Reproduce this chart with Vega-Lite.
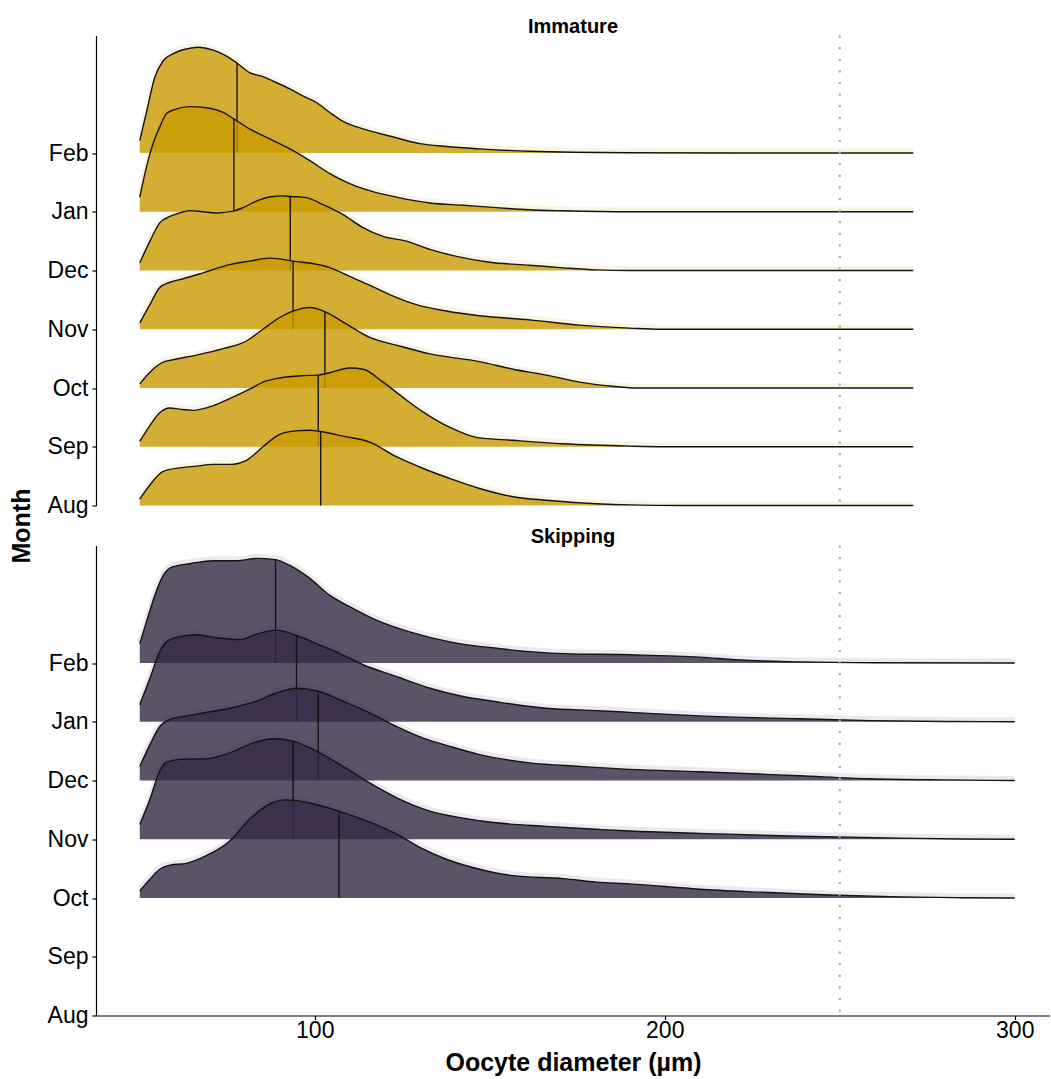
{
  "$schema": "https://vega.github.io/schema/vega-lite/v6.json",
  "background": "white",
  "padding": {"left": 9, "top": 16.5, "right": 0, "bottom": 0},
  "bounds": "flush",
  "config": {
    "font": "Liberation Sans",
    "view": {"stroke": null},
    "axis": {
      "grid": false,
      "domainColor": "black",
      "domainWidth": 1.2,
      "tickColor": "black",
      "tickWidth": 1.2,
      "tickSize": 4,
      "labelColor": "black",
      "labelFontSize": 23,
      "labelPadding": 4,
      "titleColor": "black",
      "titleFontSize": 25,
      "titleFontWeight": "bold"
    },
    "title": {"fontSize": 20, "fontWeight": "bold", "color": "black", "anchor": "middle", "offset": -3}
  },
  "spacing": 40,
  "datasets": {
    "ridges": [
      {"stage":"Immature","month":"Feb","part":"ridge","diameter":50,"density":0.21},
      {"stage":"Immature","month":"Feb","part":"ridge","diameter":51.9,"density":0.69},
      {"stage":"Immature","month":"Feb","part":"ridge","diameter":54.3,"density":1.29},
      {"stage":"Immature","month":"Feb","part":"ridge","diameter":56.7,"density":1.57},
      {"stage":"Immature","month":"Feb","part":"ridge","diameter":59.5,"density":1.69},
      {"stage":"Immature","month":"Feb","part":"ridge","diameter":63.3,"density":1.77},
      {"stage":"Immature","month":"Feb","part":"ridge","diameter":66.7,"density":1.8},
      {"stage":"Immature","month":"Feb","part":"ridge","diameter":71,"density":1.75},
      {"stage":"Immature","month":"Feb","part":"ridge","diameter":74.8,"density":1.65},
      {"stage":"Immature","month":"Feb","part":"ridge","diameter":77.6,"density":1.54},
      {"stage":"Immature","month":"Feb","part":"ridge","diameter":81.4,"density":1.37},
      {"stage":"Immature","month":"Feb","part":"ridge","diameter":85.2,"density":1.3},
      {"stage":"Immature","month":"Feb","part":"ridge","diameter":89,"density":1.2},
      {"stage":"Immature","month":"Feb","part":"ridge","diameter":92.9,"density":1.09},
      {"stage":"Immature","month":"Feb","part":"ridge","diameter":96.7,"density":0.97},
      {"stage":"Immature","month":"Feb","part":"ridge","diameter":100.5,"density":0.86},
      {"stage":"Immature","month":"Feb","part":"ridge","diameter":104.3,"density":0.69},
      {"stage":"Immature","month":"Feb","part":"ridge","diameter":108.1,"density":0.54},
      {"stage":"Immature","month":"Feb","part":"ridge","diameter":113.8,"density":0.41},
      {"stage":"Immature","month":"Feb","part":"ridge","diameter":121.4,"density":0.29},
      {"stage":"Immature","month":"Feb","part":"ridge","diameter":130,"density":0.16},
      {"stage":"Immature","month":"Feb","part":"ridge","diameter":137.6,"density":0.11},
      {"stage":"Immature","month":"Feb","part":"ridge","diameter":147.1,"density":0.07},
      {"stage":"Immature","month":"Feb","part":"ridge","diameter":161.4,"density":0.03},
      {"stage":"Immature","month":"Feb","part":"ridge","diameter":190,"density":0.005},
      {"stage":"Immature","month":"Feb","part":"ridge","diameter":220,"density":0},
      {"stage":"Immature","month":"Feb","part":"ridge","diameter":271,"density":0},
      {"stage":"Immature","month":"Feb","part":"median","diameter":77.8,"density":1.53},

      {"stage":"Immature","month":"Jan","part":"ridge","diameter":50,"density":0.25},
      {"stage":"Immature","month":"Jan","part":"ridge","diameter":51.9,"density":0.76},
      {"stage":"Immature","month":"Jan","part":"ridge","diameter":53.8,"density":1.16},
      {"stage":"Immature","month":"Jan","part":"ridge","diameter":55.7,"density":1.44},
      {"stage":"Immature","month":"Jan","part":"ridge","diameter":57.6,"density":1.67},
      {"stage":"Immature","month":"Jan","part":"ridge","diameter":59.5,"density":1.73},
      {"stage":"Immature","month":"Jan","part":"ridge","diameter":64.3,"density":1.79},
      {"stage":"Immature","month":"Jan","part":"ridge","diameter":69,"density":1.77},
      {"stage":"Immature","month":"Jan","part":"ridge","diameter":73.8,"density":1.69},
      {"stage":"Immature","month":"Jan","part":"ridge","diameter":76.9,"density":1.58},
      {"stage":"Immature","month":"Jan","part":"ridge","diameter":81.4,"density":1.41},
      {"stage":"Immature","month":"Jan","part":"ridge","diameter":87.1,"density":1.24},
      {"stage":"Immature","month":"Jan","part":"ridge","diameter":92.9,"density":1.07},
      {"stage":"Immature","month":"Jan","part":"ridge","diameter":98.6,"density":0.87},
      {"stage":"Immature","month":"Jan","part":"ridge","diameter":104.3,"density":0.65},
      {"stage":"Immature","month":"Jan","part":"ridge","diameter":110,"density":0.48},
      {"stage":"Immature","month":"Jan","part":"ridge","diameter":115.7,"density":0.36},
      {"stage":"Immature","month":"Jan","part":"ridge","diameter":123.3,"density":0.25},
      {"stage":"Immature","month":"Jan","part":"ridge","diameter":132.9,"density":0.15},
      {"stage":"Immature","month":"Jan","part":"ridge","diameter":142.4,"density":0.11},
      {"stage":"Immature","month":"Jan","part":"ridge","diameter":151.9,"density":0.07},
      {"stage":"Immature","month":"Jan","part":"ridge","diameter":161.4,"density":0.034},
      {"stage":"Immature","month":"Jan","part":"ridge","diameter":171,"density":0.017},
      {"stage":"Immature","month":"Jan","part":"ridge","diameter":190,"density":0},
      {"stage":"Immature","month":"Jan","part":"ridge","diameter":271,"density":0},
      {"stage":"Immature","month":"Jan","part":"median","diameter":76.9,"density":1.58},

      {"stage":"Immature","month":"Dec","part":"ridge","diameter":50,"density":0.13},
      {"stage":"Immature","month":"Dec","part":"ridge","diameter":52.9,"density":0.5},
      {"stage":"Immature","month":"Dec","part":"ridge","diameter":55.7,"density":0.81},
      {"stage":"Immature","month":"Dec","part":"ridge","diameter":58.6,"density":0.92},
      {"stage":"Immature","month":"Dec","part":"ridge","diameter":61.4,"density":0.98},
      {"stage":"Immature","month":"Dec","part":"ridge","diameter":64.3,"density":1.02},
      {"stage":"Immature","month":"Dec","part":"ridge","diameter":68.1,"density":1.0},
      {"stage":"Immature","month":"Dec","part":"ridge","diameter":71.9,"density":0.98},
      {"stage":"Immature","month":"Dec","part":"ridge","diameter":76.7,"density":1.01},
      {"stage":"Immature","month":"Dec","part":"ridge","diameter":79.5,"density":1.07},
      {"stage":"Immature","month":"Dec","part":"ridge","diameter":83.3,"density":1.18},
      {"stage":"Immature","month":"Dec","part":"ridge","diameter":87.1,"density":1.25},
      {"stage":"Immature","month":"Dec","part":"ridge","diameter":91,"density":1.27},
      {"stage":"Immature","month":"Dec","part":"ridge","diameter":93,"density":1.26},
      {"stage":"Immature","month":"Dec","part":"ridge","diameter":97.6,"density":1.24},
      {"stage":"Immature","month":"Dec","part":"ridge","diameter":102.4,"density":1.12},
      {"stage":"Immature","month":"Dec","part":"ridge","diameter":108.1,"density":0.95},
      {"stage":"Immature","month":"Dec","part":"ridge","diameter":113.8,"density":0.73},
      {"stage":"Immature","month":"Dec","part":"ridge","diameter":119.5,"density":0.58},
      {"stage":"Immature","month":"Dec","part":"ridge","diameter":126.2,"density":0.5},
      {"stage":"Immature","month":"Dec","part":"ridge","diameter":132.9,"density":0.36},
      {"stage":"Immature","month":"Dec","part":"ridge","diameter":140.5,"density":0.24},
      {"stage":"Immature","month":"Dec","part":"ridge","diameter":150,"density":0.14},
      {"stage":"Immature","month":"Dec","part":"ridge","diameter":161.4,"density":0.09},
      {"stage":"Immature","month":"Dec","part":"ridge","diameter":171,"density":0.045},
      {"stage":"Immature","month":"Dec","part":"ridge","diameter":180.5,"density":0.01},
      {"stage":"Immature","month":"Dec","part":"ridge","diameter":190,"density":0},
      {"stage":"Immature","month":"Dec","part":"ridge","diameter":271,"density":0},
      {"stage":"Immature","month":"Dec","part":"median","diameter":93,"density":1.26},

      {"stage":"Immature","month":"Nov","part":"ridge","diameter":50,"density":0.11},
      {"stage":"Immature","month":"Nov","part":"ridge","diameter":52.9,"density":0.42},
      {"stage":"Immature","month":"Nov","part":"ridge","diameter":55.7,"density":0.71},
      {"stage":"Immature","month":"Nov","part":"ridge","diameter":58.6,"density":0.8},
      {"stage":"Immature","month":"Nov","part":"ridge","diameter":62.4,"density":0.86},
      {"stage":"Immature","month":"Nov","part":"ridge","diameter":68.1,"density":0.96},
      {"stage":"Immature","month":"Nov","part":"ridge","diameter":75.7,"density":1.1},
      {"stage":"Immature","month":"Nov","part":"ridge","diameter":81.4,"density":1.16},
      {"stage":"Immature","month":"Nov","part":"ridge","diameter":87.1,"density":1.21},
      {"stage":"Immature","month":"Nov","part":"ridge","diameter":93.8,"density":1.16},
      {"stage":"Immature","month":"Nov","part":"ridge","diameter":104.3,"density":1.05},
      {"stage":"Immature","month":"Nov","part":"ridge","diameter":110,"density":0.9},
      {"stage":"Immature","month":"Nov","part":"ridge","diameter":115.7,"density":0.75},
      {"stage":"Immature","month":"Nov","part":"ridge","diameter":121.4,"density":0.59},
      {"stage":"Immature","month":"Nov","part":"ridge","diameter":129,"density":0.42},
      {"stage":"Immature","month":"Nov","part":"ridge","diameter":137.6,"density":0.31},
      {"stage":"Immature","month":"Nov","part":"ridge","diameter":147.1,"density":0.23},
      {"stage":"Immature","month":"Nov","part":"ridge","diameter":161.4,"density":0.16},
      {"stage":"Immature","month":"Nov","part":"ridge","diameter":175.7,"density":0.07},
      {"stage":"Immature","month":"Nov","part":"ridge","diameter":190,"density":0.02},
      {"stage":"Immature","month":"Nov","part":"ridge","diameter":199,"density":0},
      {"stage":"Immature","month":"Nov","part":"ridge","diameter":271,"density":0},
      {"stage":"Immature","month":"Nov","part":"median","diameter":93.8,"density":1.16},

      {"stage":"Immature","month":"Oct","part":"ridge","diameter":50,"density":0.07},
      {"stage":"Immature","month":"Oct","part":"ridge","diameter":52.9,"density":0.27},
      {"stage":"Immature","month":"Oct","part":"ridge","diameter":56.7,"density":0.44},
      {"stage":"Immature","month":"Oct","part":"ridge","diameter":59.5,"density":0.48},
      {"stage":"Immature","month":"Oct","part":"ridge","diameter":66.2,"density":0.56},
      {"stage":"Immature","month":"Oct","part":"ridge","diameter":73.8,"density":0.67},
      {"stage":"Immature","month":"Oct","part":"ridge","diameter":80.5,"density":0.8},
      {"stage":"Immature","month":"Oct","part":"ridge","diameter":85.2,"density":1.0},
      {"stage":"Immature","month":"Oct","part":"ridge","diameter":90,"density":1.2},
      {"stage":"Immature","month":"Oct","part":"ridge","diameter":94.8,"density":1.33},
      {"stage":"Immature","month":"Oct","part":"ridge","diameter":98.6,"density":1.37},
      {"stage":"Immature","month":"Oct","part":"ridge","diameter":102.9,"density":1.3},
      {"stage":"Immature","month":"Oct","part":"ridge","diameter":109,"density":1.09},
      {"stage":"Immature","month":"Oct","part":"ridge","diameter":115.7,"density":0.86},
      {"stage":"Immature","month":"Oct","part":"ridge","diameter":123.3,"density":0.73},
      {"stage":"Immature","month":"Oct","part":"ridge","diameter":132.9,"density":0.58},
      {"stage":"Immature","month":"Oct","part":"ridge","diameter":147.1,"density":0.45},
      {"stage":"Immature","month":"Oct","part":"ridge","diameter":156.7,"density":0.32},
      {"stage":"Immature","month":"Oct","part":"ridge","diameter":166.2,"density":0.22},
      {"stage":"Immature","month":"Oct","part":"ridge","diameter":175.7,"density":0.1},
      {"stage":"Immature","month":"Oct","part":"ridge","diameter":185.2,"density":0.03},
      {"stage":"Immature","month":"Oct","part":"ridge","diameter":192,"density":0},
      {"stage":"Immature","month":"Oct","part":"ridge","diameter":271,"density":0},
      {"stage":"Immature","month":"Oct","part":"median","diameter":102.9,"density":1.3},

      {"stage":"Immature","month":"Sep","part":"ridge","diameter":50,"density":0.09},
      {"stage":"Immature","month":"Sep","part":"ridge","diameter":52.9,"density":0.36},
      {"stage":"Immature","month":"Sep","part":"ridge","diameter":55.7,"density":0.58},
      {"stage":"Immature","month":"Sep","part":"ridge","diameter":58.6,"density":0.66},
      {"stage":"Immature","month":"Sep","part":"ridge","diameter":61.4,"density":0.64},
      {"stage":"Immature","month":"Sep","part":"ridge","diameter":65.2,"density":0.62},
      {"stage":"Immature","month":"Sep","part":"ridge","diameter":71,"density":0.7},
      {"stage":"Immature","month":"Sep","part":"ridge","diameter":75.7,"density":0.82},
      {"stage":"Immature","month":"Sep","part":"ridge","diameter":81.4,"density":0.98},
      {"stage":"Immature","month":"Sep","part":"ridge","diameter":85.2,"density":1.1},
      {"stage":"Immature","month":"Sep","part":"ridge","diameter":90,"density":1.17},
      {"stage":"Immature","month":"Sep","part":"ridge","diameter":96.7,"density":1.21},
      {"stage":"Immature","month":"Sep","part":"ridge","diameter":101,"density":1.22},
      {"stage":"Immature","month":"Sep","part":"ridge","diameter":104.3,"density":1.26},
      {"stage":"Immature","month":"Sep","part":"ridge","diameter":110,"density":1.34},
      {"stage":"Immature","month":"Sep","part":"ridge","diameter":113.8,"density":1.32},
      {"stage":"Immature","month":"Sep","part":"ridge","diameter":119.5,"density":1.1},
      {"stage":"Immature","month":"Sep","part":"ridge","diameter":125.2,"density":0.84},
      {"stage":"Immature","month":"Sep","part":"ridge","diameter":131,"density":0.59},
      {"stage":"Immature","month":"Sep","part":"ridge","diameter":138.6,"density":0.33},
      {"stage":"Immature","month":"Sep","part":"ridge","diameter":146.2,"density":0.16},
      {"stage":"Immature","month":"Sep","part":"ridge","diameter":156.7,"density":0.11},
      {"stage":"Immature","month":"Sep","part":"ridge","diameter":171,"density":0.05},
      {"stage":"Immature","month":"Sep","part":"ridge","diameter":190,"density":0.01},
      {"stage":"Immature","month":"Sep","part":"ridge","diameter":200,"density":0},
      {"stage":"Immature","month":"Sep","part":"ridge","diameter":271,"density":0},
      {"stage":"Immature","month":"Sep","part":"median","diameter":101,"density":1.22},

      {"stage":"Immature","month":"Aug","part":"ridge","diameter":50,"density":0.11},
      {"stage":"Immature","month":"Aug","part":"ridge","diameter":52.9,"density":0.35},
      {"stage":"Immature","month":"Aug","part":"ridge","diameter":56.7,"density":0.58},
      {"stage":"Immature","month":"Aug","part":"ridge","diameter":61.4,"density":0.64},
      {"stage":"Immature","month":"Aug","part":"ridge","diameter":66.2,"density":0.67},
      {"stage":"Immature","month":"Aug","part":"ridge","diameter":71,"density":0.7},
      {"stage":"Immature","month":"Aug","part":"ridge","diameter":75.7,"density":0.7},
      {"stage":"Immature","month":"Aug","part":"ridge","diameter":80.5,"density":0.77},
      {"stage":"Immature","month":"Aug","part":"ridge","diameter":85.2,"density":1.0},
      {"stage":"Immature","month":"Aug","part":"ridge","diameter":90,"density":1.21},
      {"stage":"Immature","month":"Aug","part":"ridge","diameter":94.8,"density":1.27},
      {"stage":"Immature","month":"Aug","part":"ridge","diameter":98.6,"density":1.28},
      {"stage":"Immature","month":"Aug","part":"ridge","diameter":101.7,"density":1.26},
      {"stage":"Immature","month":"Aug","part":"ridge","diameter":108.1,"density":1.18},
      {"stage":"Immature","month":"Aug","part":"ridge","diameter":115.7,"density":1.08},
      {"stage":"Immature","month":"Aug","part":"ridge","diameter":123.3,"density":0.83},
      {"stage":"Immature","month":"Aug","part":"ridge","diameter":131,"density":0.63},
      {"stage":"Immature","month":"Aug","part":"ridge","diameter":138.6,"density":0.46},
      {"stage":"Immature","month":"Aug","part":"ridge","diameter":147.1,"density":0.29},
      {"stage":"Immature","month":"Aug","part":"ridge","diameter":156.7,"density":0.15},
      {"stage":"Immature","month":"Aug","part":"ridge","diameter":166.2,"density":0.09},
      {"stage":"Immature","month":"Aug","part":"ridge","diameter":180.5,"density":0.03},
      {"stage":"Immature","month":"Aug","part":"ridge","diameter":190,"density":0.01},
      {"stage":"Immature","month":"Aug","part":"ridge","diameter":205,"density":0},
      {"stage":"Immature","month":"Aug","part":"ridge","diameter":271,"density":0},
      {"stage":"Immature","month":"Aug","part":"median","diameter":101.7,"density":1.26},

      {"stage":"Immature","part":"reference","diameter":250},

      {"stage":"Skipping","month":"Feb","part":"ridge","diameter":50,"density":0.33},
      {"stage":"Skipping","month":"Feb","part":"ridge","diameter":51.9,"density":0.7},
      {"stage":"Skipping","month":"Feb","part":"ridge","diameter":54.3,"density":1.15},
      {"stage":"Skipping","month":"Feb","part":"ridge","diameter":56.7,"density":1.49},
      {"stage":"Skipping","month":"Feb","part":"ridge","diameter":59.5,"density":1.64},
      {"stage":"Skipping","month":"Feb","part":"ridge","diameter":64.3,"density":1.69},
      {"stage":"Skipping","month":"Feb","part":"ridge","diameter":71,"density":1.74},
      {"stage":"Skipping","month":"Feb","part":"ridge","diameter":77.6,"density":1.74},
      {"stage":"Skipping","month":"Feb","part":"ridge","diameter":83.3,"density":1.78},
      {"stage":"Skipping","month":"Feb","part":"ridge","diameter":88.8,"density":1.76},
      {"stage":"Skipping","month":"Feb","part":"ridge","diameter":92.9,"density":1.66},
      {"stage":"Skipping","month":"Feb","part":"ridge","diameter":98.6,"density":1.44},
      {"stage":"Skipping","month":"Feb","part":"ridge","diameter":104.3,"density":1.15},
      {"stage":"Skipping","month":"Feb","part":"ridge","diameter":110,"density":0.96},
      {"stage":"Skipping","month":"Feb","part":"ridge","diameter":117.6,"density":0.73},
      {"stage":"Skipping","month":"Feb","part":"ridge","diameter":127.1,"density":0.53},
      {"stage":"Skipping","month":"Feb","part":"ridge","diameter":138.6,"density":0.36},
      {"stage":"Skipping","month":"Feb","part":"ridge","diameter":151.9,"density":0.25},
      {"stage":"Skipping","month":"Feb","part":"ridge","diameter":171,"density":0.16},
      {"stage":"Skipping","month":"Feb","part":"ridge","diameter":190,"density":0.14},
      {"stage":"Skipping","month":"Feb","part":"ridge","diameter":210,"density":0.1},
      {"stage":"Skipping","month":"Feb","part":"ridge","diameter":221.4,"density":0.05},
      {"stage":"Skipping","month":"Feb","part":"ridge","diameter":238.6,"density":0.02},
      {"stage":"Skipping","month":"Feb","part":"ridge","diameter":260,"density":0.005},
      {"stage":"Skipping","month":"Feb","part":"ridge","diameter":300,"density":0},
      {"stage":"Skipping","month":"Feb","part":"median","diameter":88.8,"density":1.76},

      {"stage":"Skipping","month":"Jan","part":"ridge","diameter":50,"density":0.29},
      {"stage":"Skipping","month":"Jan","part":"ridge","diameter":52.9,"density":0.74},
      {"stage":"Skipping","month":"Jan","part":"ridge","diameter":55.7,"density":1.19},
      {"stage":"Skipping","month":"Jan","part":"ridge","diameter":57.6,"density":1.36},
      {"stage":"Skipping","month":"Jan","part":"ridge","diameter":61.4,"density":1.45},
      {"stage":"Skipping","month":"Jan","part":"ridge","diameter":66.2,"density":1.48},
      {"stage":"Skipping","month":"Jan","part":"ridge","diameter":71.9,"density":1.43},
      {"stage":"Skipping","month":"Jan","part":"ridge","diameter":78.6,"density":1.4},
      {"stage":"Skipping","month":"Jan","part":"ridge","diameter":83.3,"density":1.49},
      {"stage":"Skipping","month":"Jan","part":"ridge","diameter":88.8,"density":1.56},
      {"stage":"Skipping","month":"Jan","part":"ridge","diameter":94.8,"density":1.47},
      {"stage":"Skipping","month":"Jan","part":"ridge","diameter":100.5,"density":1.33},
      {"stage":"Skipping","month":"Jan","part":"ridge","diameter":106.2,"density":1.19},
      {"stage":"Skipping","month":"Jan","part":"ridge","diameter":113.8,"density":0.97},
      {"stage":"Skipping","month":"Jan","part":"ridge","diameter":123.3,"density":0.77},
      {"stage":"Skipping","month":"Jan","part":"ridge","diameter":132.9,"density":0.57},
      {"stage":"Skipping","month":"Jan","part":"ridge","diameter":142.4,"density":0.43},
      {"stage":"Skipping","month":"Jan","part":"ridge","diameter":151.9,"density":0.34},
      {"stage":"Skipping","month":"Jan","part":"ridge","diameter":166.2,"density":0.23},
      {"stage":"Skipping","month":"Jan","part":"ridge","diameter":180.5,"density":0.19},
      {"stage":"Skipping","month":"Jan","part":"ridge","diameter":190,"density":0.16},
      {"stage":"Skipping","month":"Jan","part":"ridge","diameter":210,"density":0.1},
      {"stage":"Skipping","month":"Jan","part":"ridge","diameter":238.6,"density":0.05},
      {"stage":"Skipping","month":"Jan","part":"ridge","diameter":258.6,"density":0.02},
      {"stage":"Skipping","month":"Jan","part":"ridge","diameter":280,"density":0.005},
      {"stage":"Skipping","month":"Jan","part":"ridge","diameter":300,"density":0},
      {"stage":"Skipping","month":"Jan","part":"median","diameter":94.8,"density":1.47},

      {"stage":"Skipping","month":"Dec","part":"ridge","diameter":50,"density":0.24},
      {"stage":"Skipping","month":"Dec","part":"ridge","diameter":52.9,"density":0.61},
      {"stage":"Skipping","month":"Dec","part":"ridge","diameter":55.7,"density":0.92},
      {"stage":"Skipping","month":"Dec","part":"ridge","diameter":58.6,"density":1.04},
      {"stage":"Skipping","month":"Dec","part":"ridge","diameter":62.4,"density":1.09},
      {"stage":"Skipping","month":"Dec","part":"ridge","diameter":68.1,"density":1.15},
      {"stage":"Skipping","month":"Dec","part":"ridge","diameter":75.7,"density":1.23},
      {"stage":"Skipping","month":"Dec","part":"ridge","diameter":83.3,"density":1.35},
      {"stage":"Skipping","month":"Dec","part":"ridge","diameter":89,"density":1.49},
      {"stage":"Skipping","month":"Dec","part":"ridge","diameter":94.8,"density":1.57},
      {"stage":"Skipping","month":"Dec","part":"ridge","diameter":101,"density":1.52},
      {"stage":"Skipping","month":"Dec","part":"ridge","diameter":108.1,"density":1.35},
      {"stage":"Skipping","month":"Dec","part":"ridge","diameter":115.7,"density":1.15},
      {"stage":"Skipping","month":"Dec","part":"ridge","diameter":123.3,"density":0.92},
      {"stage":"Skipping","month":"Dec","part":"ridge","diameter":131,"density":0.72},
      {"stage":"Skipping","month":"Dec","part":"ridge","diameter":138.6,"density":0.58},
      {"stage":"Skipping","month":"Dec","part":"ridge","diameter":147.1,"density":0.44},
      {"stage":"Skipping","month":"Dec","part":"ridge","diameter":161.4,"density":0.3},
      {"stage":"Skipping","month":"Dec","part":"ridge","diameter":175.7,"density":0.24},
      {"stage":"Skipping","month":"Dec","part":"ridge","diameter":190,"density":0.19},
      {"stage":"Skipping","month":"Dec","part":"ridge","diameter":210,"density":0.15},
      {"stage":"Skipping","month":"Dec","part":"ridge","diameter":238.6,"density":0.08},
      {"stage":"Skipping","month":"Dec","part":"ridge","diameter":258.6,"density":0.03},
      {"stage":"Skipping","month":"Dec","part":"ridge","diameter":280,"density":0.01},
      {"stage":"Skipping","month":"Dec","part":"ridge","diameter":300,"density":0},
      {"stage":"Skipping","month":"Dec","part":"median","diameter":101,"density":1.52},

      {"stage":"Skipping","month":"Nov","part":"ridge","diameter":50,"density":0.25},
      {"stage":"Skipping","month":"Nov","part":"ridge","diameter":52.9,"density":0.68},
      {"stage":"Skipping","month":"Nov","part":"ridge","diameter":55.7,"density":1.16},
      {"stage":"Skipping","month":"Nov","part":"ridge","diameter":57.6,"density":1.31},
      {"stage":"Skipping","month":"Nov","part":"ridge","diameter":61.4,"density":1.36},
      {"stage":"Skipping","month":"Nov","part":"ridge","diameter":69,"density":1.37},
      {"stage":"Skipping","month":"Nov","part":"ridge","diameter":75.7,"density":1.47},
      {"stage":"Skipping","month":"Nov","part":"ridge","diameter":82.4,"density":1.64},
      {"stage":"Skipping","month":"Nov","part":"ridge","diameter":88.1,"density":1.71},
      {"stage":"Skipping","month":"Nov","part":"ridge","diameter":93.8,"density":1.67},
      {"stage":"Skipping","month":"Nov","part":"ridge","diameter":100.5,"density":1.5},
      {"stage":"Skipping","month":"Nov","part":"ridge","diameter":108.1,"density":1.24},
      {"stage":"Skipping","month":"Nov","part":"ridge","diameter":115.7,"density":0.96},
      {"stage":"Skipping","month":"Nov","part":"ridge","diameter":123.3,"density":0.71},
      {"stage":"Skipping","month":"Nov","part":"ridge","diameter":132.9,"density":0.48},
      {"stage":"Skipping","month":"Nov","part":"ridge","diameter":142.4,"density":0.36},
      {"stage":"Skipping","month":"Nov","part":"ridge","diameter":151.9,"density":0.28},
      {"stage":"Skipping","month":"Nov","part":"ridge","diameter":166.2,"density":0.22},
      {"stage":"Skipping","month":"Nov","part":"ridge","diameter":180.5,"density":0.17},
      {"stage":"Skipping","month":"Nov","part":"ridge","diameter":190,"density":0.14},
      {"stage":"Skipping","month":"Nov","part":"ridge","diameter":210,"density":0.1},
      {"stage":"Skipping","month":"Nov","part":"ridge","diameter":238.6,"density":0.05},
      {"stage":"Skipping","month":"Nov","part":"ridge","diameter":267,"density":0.02},
      {"stage":"Skipping","month":"Nov","part":"ridge","diameter":285,"density":0.005},
      {"stage":"Skipping","month":"Nov","part":"ridge","diameter":300,"density":0},
      {"stage":"Skipping","month":"Nov","part":"median","diameter":93.8,"density":1.67},

      {"stage":"Skipping","month":"Oct","part":"ridge","diameter":50,"density":0.12},
      {"stage":"Skipping","month":"Oct","part":"ridge","diameter":52.9,"density":0.32},
      {"stage":"Skipping","month":"Oct","part":"ridge","diameter":55.7,"density":0.49},
      {"stage":"Skipping","month":"Oct","part":"ridge","diameter":58.6,"density":0.56},
      {"stage":"Skipping","month":"Oct","part":"ridge","diameter":63.3,"density":0.59},
      {"stage":"Skipping","month":"Oct","part":"ridge","diameter":69,"density":0.72},
      {"stage":"Skipping","month":"Oct","part":"ridge","diameter":75.7,"density":0.97},
      {"stage":"Skipping","month":"Oct","part":"ridge","diameter":81.4,"density":1.34},
      {"stage":"Skipping","month":"Oct","part":"ridge","diameter":87.1,"density":1.6},
      {"stage":"Skipping","month":"Oct","part":"ridge","diameter":91.9,"density":1.67},
      {"stage":"Skipping","month":"Oct","part":"ridge","diameter":97.6,"density":1.63},
      {"stage":"Skipping","month":"Oct","part":"ridge","diameter":106.9,"density":1.48},
      {"stage":"Skipping","month":"Oct","part":"ridge","diameter":115.7,"density":1.29},
      {"stage":"Skipping","month":"Oct","part":"ridge","diameter":123.3,"density":1.09},
      {"stage":"Skipping","month":"Oct","part":"ridge","diameter":130,"density":0.86},
      {"stage":"Skipping","month":"Oct","part":"ridge","diameter":137.6,"density":0.66},
      {"stage":"Skipping","month":"Oct","part":"ridge","diameter":147.1,"density":0.49},
      {"stage":"Skipping","month":"Oct","part":"ridge","diameter":156.7,"density":0.38},
      {"stage":"Skipping","month":"Oct","part":"ridge","diameter":171,"density":0.33},
      {"stage":"Skipping","month":"Oct","part":"ridge","diameter":180.5,"density":0.27},
      {"stage":"Skipping","month":"Oct","part":"ridge","diameter":190,"density":0.24},
      {"stage":"Skipping","month":"Oct","part":"ridge","diameter":210,"density":0.15},
      {"stage":"Skipping","month":"Oct","part":"ridge","diameter":227,"density":0.1},
      {"stage":"Skipping","month":"Oct","part":"ridge","diameter":247,"density":0.05},
      {"stage":"Skipping","month":"Oct","part":"ridge","diameter":267,"density":0.02},
      {"stage":"Skipping","month":"Oct","part":"ridge","diameter":285,"density":0.005},
      {"stage":"Skipping","month":"Oct","part":"ridge","diameter":300,"density":0},
      {"stage":"Skipping","month":"Oct","part":"median","diameter":106.9,"density":1.48},

      {"stage":"Skipping","part":"reference","diameter":250}
    ]
  },
  "vconcat": [
    {
      "title": {"text": "Immature"},
      "width": 954,
      "height": 470,
      "data": {"name": "ridges"},
      "transform": [
        {"filter": "datum.stage === 'Immature'"},
        {"calculate": "indexof(['Aug','Sep','Oct','Nov','Dec','Jan','Feb'], datum.month)", "as": "base"},
        {"calculate": "datum.base + datum.density", "as": "top"}
      ],
      "encoding": {
        "x": {"field": "diameter", "type": "quantitative", "scale": {"domain": [37.5, 310.07], "nice": false, "zero": false}, "axis": null}
      },
      "layer": [
        {
          "encoding": {
            "y": {"field": "top", "type": "quantitative", "scale": {"domain": [0, 8], "nice": false, "zero": false},
                  "axis": {"values": [0, 1, 2, 3, 4, 5, 6], "labelExpr": "['Aug','Sep','Oct','Nov','Dec','Jan','Feb'][datum.value]", "title": "Month", "titlePadding": 13, "titleY": 490}}
          },
          "layer": [
            {"transform": [{"filter": "datum.month === 'Feb' && datum.part === 'ridge'"}], "mark": {"type": "line", "interpolate": "monotone", "strokeWidth": 5, "yOffset": -2, "color": "#C99A00", "opacity": 0.1}},
            {"transform": [{"filter": "datum.month === 'Feb' && datum.part === 'ridge'"}], "mark": {"type": "area", "interpolate": "monotone", "color": "#C99A00", "opacity": 0.8}, "encoding": {"y2": {"field": "base"}}},
            {"transform": [{"filter": "datum.month === 'Feb' && datum.part === 'ridge'"}], "mark": {"type": "line", "interpolate": "monotone", "color": "#141414", "strokeWidth": 1.4}},
            {"transform": [{"filter": "datum.month === 'Feb' && datum.part === 'median'"}], "mark": {"type": "rule", "color": "#141414", "strokeWidth": 1.4}, "encoding": {"y2": {"field": "base"}}},

            {"transform": [{"filter": "datum.month === 'Jan' && datum.part === 'ridge'"}], "mark": {"type": "line", "interpolate": "monotone", "strokeWidth": 5, "yOffset": -2, "color": "#C99A00", "opacity": 0.1}},
            {"transform": [{"filter": "datum.month === 'Jan' && datum.part === 'ridge'"}], "mark": {"type": "area", "interpolate": "monotone", "color": "#C99A00", "opacity": 0.8}, "encoding": {"y2": {"field": "base"}}},
            {"transform": [{"filter": "datum.month === 'Jan' && datum.part === 'ridge'"}], "mark": {"type": "line", "interpolate": "monotone", "color": "#141414", "strokeWidth": 1.4}},
            {"transform": [{"filter": "datum.month === 'Jan' && datum.part === 'median'"}], "mark": {"type": "rule", "color": "#141414", "strokeWidth": 1.4}, "encoding": {"y2": {"field": "base"}}},

            {"transform": [{"filter": "datum.month === 'Dec' && datum.part === 'ridge'"}], "mark": {"type": "line", "interpolate": "monotone", "strokeWidth": 5, "yOffset": -2, "color": "#C99A00", "opacity": 0.1}},
            {"transform": [{"filter": "datum.month === 'Dec' && datum.part === 'ridge'"}], "mark": {"type": "area", "interpolate": "monotone", "color": "#C99A00", "opacity": 0.8}, "encoding": {"y2": {"field": "base"}}},
            {"transform": [{"filter": "datum.month === 'Dec' && datum.part === 'ridge'"}], "mark": {"type": "line", "interpolate": "monotone", "color": "#141414", "strokeWidth": 1.4}},
            {"transform": [{"filter": "datum.month === 'Dec' && datum.part === 'median'"}], "mark": {"type": "rule", "color": "#141414", "strokeWidth": 1.4}, "encoding": {"y2": {"field": "base"}}},

            {"transform": [{"filter": "datum.month === 'Nov' && datum.part === 'ridge'"}], "mark": {"type": "line", "interpolate": "monotone", "strokeWidth": 5, "yOffset": -2, "color": "#C99A00", "opacity": 0.1}},
            {"transform": [{"filter": "datum.month === 'Nov' && datum.part === 'ridge'"}], "mark": {"type": "area", "interpolate": "monotone", "color": "#C99A00", "opacity": 0.8}, "encoding": {"y2": {"field": "base"}}},
            {"transform": [{"filter": "datum.month === 'Nov' && datum.part === 'ridge'"}], "mark": {"type": "line", "interpolate": "monotone", "color": "#141414", "strokeWidth": 1.4}},
            {"transform": [{"filter": "datum.month === 'Nov' && datum.part === 'median'"}], "mark": {"type": "rule", "color": "#141414", "strokeWidth": 1.4}, "encoding": {"y2": {"field": "base"}}},

            {"transform": [{"filter": "datum.month === 'Oct' && datum.part === 'ridge'"}], "mark": {"type": "line", "interpolate": "monotone", "strokeWidth": 5, "yOffset": -2, "color": "#C99A00", "opacity": 0.1}},
            {"transform": [{"filter": "datum.month === 'Oct' && datum.part === 'ridge'"}], "mark": {"type": "area", "interpolate": "monotone", "color": "#C99A00", "opacity": 0.8}, "encoding": {"y2": {"field": "base"}}},
            {"transform": [{"filter": "datum.month === 'Oct' && datum.part === 'ridge'"}], "mark": {"type": "line", "interpolate": "monotone", "color": "#141414", "strokeWidth": 1.4}},
            {"transform": [{"filter": "datum.month === 'Oct' && datum.part === 'median'"}], "mark": {"type": "rule", "color": "#141414", "strokeWidth": 1.4}, "encoding": {"y2": {"field": "base"}}},

            {"transform": [{"filter": "datum.month === 'Sep' && datum.part === 'ridge'"}], "mark": {"type": "line", "interpolate": "monotone", "strokeWidth": 5, "yOffset": -2, "color": "#C99A00", "opacity": 0.1}},
            {"transform": [{"filter": "datum.month === 'Sep' && datum.part === 'ridge'"}], "mark": {"type": "area", "interpolate": "monotone", "color": "#C99A00", "opacity": 0.8}, "encoding": {"y2": {"field": "base"}}},
            {"transform": [{"filter": "datum.month === 'Sep' && datum.part === 'ridge'"}], "mark": {"type": "line", "interpolate": "monotone", "color": "#141414", "strokeWidth": 1.4}},
            {"transform": [{"filter": "datum.month === 'Sep' && datum.part === 'median'"}], "mark": {"type": "rule", "color": "#141414", "strokeWidth": 1.4}, "encoding": {"y2": {"field": "base"}}},

            {"transform": [{"filter": "datum.month === 'Aug' && datum.part === 'ridge'"}], "mark": {"type": "line", "interpolate": "monotone", "strokeWidth": 5, "yOffset": -2, "color": "#C99A00", "opacity": 0.1}},
            {"transform": [{"filter": "datum.month === 'Aug' && datum.part === 'ridge'"}], "mark": {"type": "area", "interpolate": "monotone", "color": "#C99A00", "opacity": 0.8}, "encoding": {"y2": {"field": "base"}}},
            {"transform": [{"filter": "datum.month === 'Aug' && datum.part === 'ridge'"}], "mark": {"type": "line", "interpolate": "monotone", "color": "#141414", "strokeWidth": 1.4}},
            {"transform": [{"filter": "datum.month === 'Aug' && datum.part === 'median'"}], "mark": {"type": "rule", "color": "#141414", "strokeWidth": 1.4}, "encoding": {"y2": {"field": "base"}}}
          ]
        },
        {"transform": [{"filter": "datum.part === 'reference'"}], "mark": {"type": "rule", "color": "#ABABAB", "strokeWidth": 2.2, "strokeDash": [2.2, 9.4]}, "encoding": {}}
      ]
    },
    {
      "title": {"text": "Skipping"},
      "width": 954,
      "height": 470,
      "data": {"name": "ridges"},
      "transform": [
        {"filter": "datum.stage === 'Skipping'"},
        {"calculate": "indexof(['Aug','Sep','Oct','Nov','Dec','Jan','Feb'], datum.month)", "as": "base"},
        {"calculate": "datum.base + datum.density", "as": "top"}
      ],
      "encoding": {
        "x": {"field": "diameter", "type": "quantitative", "scale": {"domain": [37.5, 310.07], "nice": false, "zero": false},
              "axis": {"values": [100, 200, 300], "title": "Oocyte diameter (µm)", "labelPadding": 0, "titlePadding": 8}}
      },
      "layer": [
        {
          "encoding": {
            "y": {"field": "top", "type": "quantitative", "scale": {"domain": [0, 8], "nice": false, "zero": false},
                  "axis": {"values": [0, 1, 2, 3, 4, 5, 6], "labelExpr": "['Aug','Sep','Oct','Nov','Dec','Jan','Feb'][datum.value]", "title": null}}
          },
          "layer": [
            {"transform": [{"filter": "datum.month === 'Feb' && datum.part === 'ridge'"}], "mark": {"type": "line", "interpolate": "monotone", "strokeWidth": 5, "yOffset": -2, "color": "#352844", "opacity": 0.1}},
            {"transform": [{"filter": "datum.month === 'Feb' && datum.part === 'ridge'"}], "mark": {"type": "area", "interpolate": "monotone", "color": "#352844", "opacity": 0.8}, "encoding": {"y2": {"field": "base"}}},
            {"transform": [{"filter": "datum.month === 'Feb' && datum.part === 'ridge'"}], "mark": {"type": "line", "interpolate": "monotone", "color": "#141414", "strokeWidth": 1.4}},
            {"transform": [{"filter": "datum.month === 'Feb' && datum.part === 'median'"}], "mark": {"type": "rule", "color": "#141414", "strokeWidth": 1.4}, "encoding": {"y2": {"field": "base"}}},

            {"transform": [{"filter": "datum.month === 'Jan' && datum.part === 'ridge'"}], "mark": {"type": "line", "interpolate": "monotone", "strokeWidth": 5, "yOffset": -2, "color": "#352844", "opacity": 0.1}},
            {"transform": [{"filter": "datum.month === 'Jan' && datum.part === 'ridge'"}], "mark": {"type": "area", "interpolate": "monotone", "color": "#352844", "opacity": 0.8}, "encoding": {"y2": {"field": "base"}}},
            {"transform": [{"filter": "datum.month === 'Jan' && datum.part === 'ridge'"}], "mark": {"type": "line", "interpolate": "monotone", "color": "#141414", "strokeWidth": 1.4}},
            {"transform": [{"filter": "datum.month === 'Jan' && datum.part === 'median'"}], "mark": {"type": "rule", "color": "#141414", "strokeWidth": 1.4}, "encoding": {"y2": {"field": "base"}}},

            {"transform": [{"filter": "datum.month === 'Dec' && datum.part === 'ridge'"}], "mark": {"type": "line", "interpolate": "monotone", "strokeWidth": 5, "yOffset": -2, "color": "#352844", "opacity": 0.1}},
            {"transform": [{"filter": "datum.month === 'Dec' && datum.part === 'ridge'"}], "mark": {"type": "area", "interpolate": "monotone", "color": "#352844", "opacity": 0.8}, "encoding": {"y2": {"field": "base"}}},
            {"transform": [{"filter": "datum.month === 'Dec' && datum.part === 'ridge'"}], "mark": {"type": "line", "interpolate": "monotone", "color": "#141414", "strokeWidth": 1.4}},
            {"transform": [{"filter": "datum.month === 'Dec' && datum.part === 'median'"}], "mark": {"type": "rule", "color": "#141414", "strokeWidth": 1.4}, "encoding": {"y2": {"field": "base"}}},

            {"transform": [{"filter": "datum.month === 'Nov' && datum.part === 'ridge'"}], "mark": {"type": "line", "interpolate": "monotone", "strokeWidth": 5, "yOffset": -2, "color": "#352844", "opacity": 0.1}},
            {"transform": [{"filter": "datum.month === 'Nov' && datum.part === 'ridge'"}], "mark": {"type": "area", "interpolate": "monotone", "color": "#352844", "opacity": 0.8}, "encoding": {"y2": {"field": "base"}}},
            {"transform": [{"filter": "datum.month === 'Nov' && datum.part === 'ridge'"}], "mark": {"type": "line", "interpolate": "monotone", "color": "#141414", "strokeWidth": 1.4}},
            {"transform": [{"filter": "datum.month === 'Nov' && datum.part === 'median'"}], "mark": {"type": "rule", "color": "#141414", "strokeWidth": 1.4}, "encoding": {"y2": {"field": "base"}}},

            {"transform": [{"filter": "datum.month === 'Oct' && datum.part === 'ridge'"}], "mark": {"type": "line", "interpolate": "monotone", "strokeWidth": 5, "yOffset": -2, "color": "#352844", "opacity": 0.1}},
            {"transform": [{"filter": "datum.month === 'Oct' && datum.part === 'ridge'"}], "mark": {"type": "area", "interpolate": "monotone", "color": "#352844", "opacity": 0.8}, "encoding": {"y2": {"field": "base"}}},
            {"transform": [{"filter": "datum.month === 'Oct' && datum.part === 'ridge'"}], "mark": {"type": "line", "interpolate": "monotone", "color": "#141414", "strokeWidth": 1.4}},
            {"transform": [{"filter": "datum.month === 'Oct' && datum.part === 'median'"}], "mark": {"type": "rule", "color": "#141414", "strokeWidth": 1.4}, "encoding": {"y2": {"field": "base"}}}
          ]
        },
        {"transform": [{"filter": "datum.part === 'reference'"}], "mark": {"type": "rule", "color": "#ABABAB", "strokeWidth": 2.2, "strokeDash": [2.2, 9.4]}, "encoding": {}}
      ]
    }
  ]
}
